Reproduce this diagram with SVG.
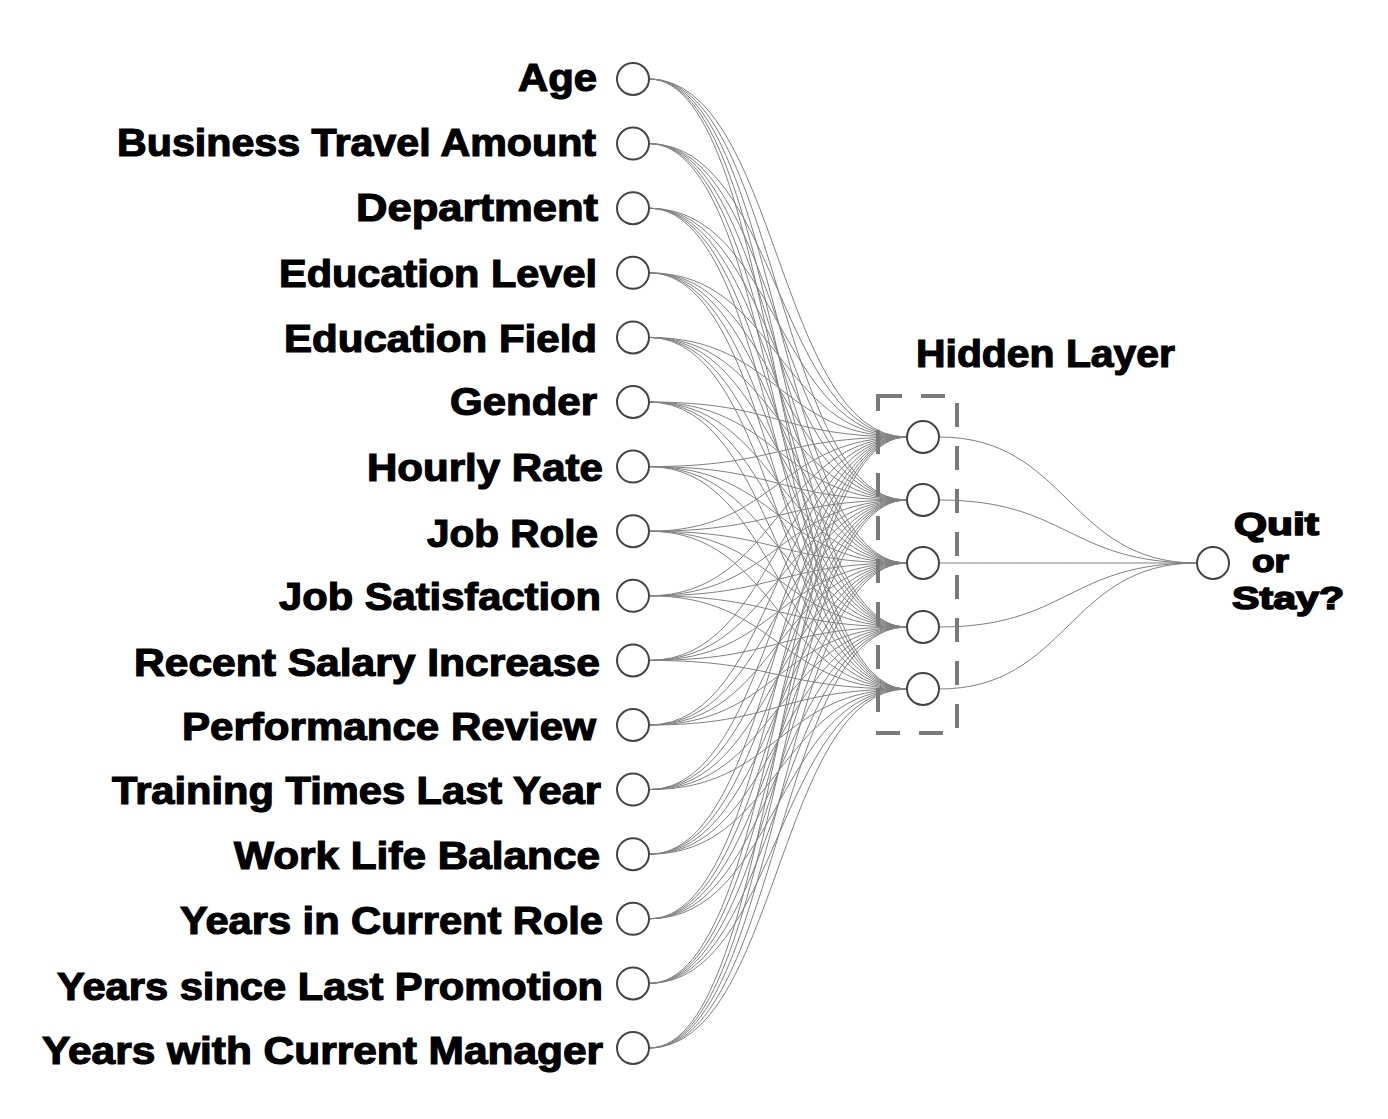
<svg xmlns="http://www.w3.org/2000/svg" width="1388" height="1119" viewBox="0 0 1388 1119">
<style>
.lbl{font-family:"Liberation Sans",Arial,sans-serif;font-weight:bold;font-size:38px;fill:#000;stroke:#000;stroke-width:1.2px}
.lbl.outl{font-size:32px;stroke-width:1.6px}
.node{fill:#fff;stroke:#444;stroke-width:2}
.conn path{fill:none;stroke:#808080;stroke-width:1}
.box{fill:none;stroke:#7a7a7a;stroke-width:4;stroke-dasharray:24 19}
</style>
<rect width="1388" height="1119" fill="#fff"/>
<g id="connectors" class="conn">
<path d="M649,79 C778,79 778,437 907,437"/><path d="M649,79 C778,79 778,500 907,500"/><path d="M649,79 C778,79 778,563 907,563"/><path d="M649,79 C778,79 778,627 907,627"/><path d="M649,79 C778,79 778,689 907,689"/>
<path d="M649,143.6 C778,143.6 778,437 907,437"/><path d="M649,143.6 C778,143.6 778,500 907,500"/><path d="M649,143.6 C778,143.6 778,563 907,563"/><path d="M649,143.6 C778,143.6 778,627 907,627"/><path d="M649,143.6 C778,143.6 778,689 907,689"/>
<path d="M649,208.2 C778,208.2 778,437 907,437"/><path d="M649,208.2 C778,208.2 778,500 907,500"/><path d="M649,208.2 C778,208.2 778,563 907,563"/><path d="M649,208.2 C778,208.2 778,627 907,627"/><path d="M649,208.2 C778,208.2 778,689 907,689"/>
<path d="M649,272.8 C778,272.8 778,437 907,437"/><path d="M649,272.8 C778,272.8 778,500 907,500"/><path d="M649,272.8 C778,272.8 778,563 907,563"/><path d="M649,272.8 C778,272.8 778,627 907,627"/><path d="M649,272.8 C778,272.8 778,689 907,689"/>
<path d="M649,337.4 C778,337.4 778,437 907,437"/><path d="M649,337.4 C778,337.4 778,500 907,500"/><path d="M649,337.4 C778,337.4 778,563 907,563"/><path d="M649,337.4 C778,337.4 778,627 907,627"/><path d="M649,337.4 C778,337.4 778,689 907,689"/>
<path d="M649,402 C778,402 778,437 907,437"/><path d="M649,402 C778,402 778,500 907,500"/><path d="M649,402 C778,402 778,563 907,563"/><path d="M649,402 C778,402 778,627 907,627"/><path d="M649,402 C778,402 778,689 907,689"/>
<path d="M649,466.6 C778,466.6 778,437 907,437"/><path d="M649,466.6 C778,466.6 778,500 907,500"/><path d="M649,466.6 C778,466.6 778,563 907,563"/><path d="M649,466.6 C778,466.6 778,627 907,627"/><path d="M649,466.6 C778,466.6 778,689 907,689"/>
<path d="M649,531.2 C778,531.2 778,437 907,437"/><path d="M649,531.2 C778,531.2 778,500 907,500"/><path d="M649,531.2 C778,531.2 778,563 907,563"/><path d="M649,531.2 C778,531.2 778,627 907,627"/><path d="M649,531.2 C778,531.2 778,689 907,689"/>
<path d="M649,595.8 C778,595.8 778,437 907,437"/><path d="M649,595.8 C778,595.8 778,500 907,500"/><path d="M649,595.8 C778,595.8 778,563 907,563"/><path d="M649,595.8 C778,595.8 778,627 907,627"/><path d="M649,595.8 C778,595.8 778,689 907,689"/>
<path d="M649,660.4 C778,660.4 778,437 907,437"/><path d="M649,660.4 C778,660.4 778,500 907,500"/><path d="M649,660.4 C778,660.4 778,563 907,563"/><path d="M649,660.4 C778,660.4 778,627 907,627"/><path d="M649,660.4 C778,660.4 778,689 907,689"/>
<path d="M649,725 C778,725 778,437 907,437"/><path d="M649,725 C778,725 778,500 907,500"/><path d="M649,725 C778,725 778,563 907,563"/><path d="M649,725 C778,725 778,627 907,627"/><path d="M649,725 C778,725 778,689 907,689"/>
<path d="M649,789.6 C778,789.6 778,437 907,437"/><path d="M649,789.6 C778,789.6 778,500 907,500"/><path d="M649,789.6 C778,789.6 778,563 907,563"/><path d="M649,789.6 C778,789.6 778,627 907,627"/><path d="M649,789.6 C778,789.6 778,689 907,689"/>
<path d="M649,854.2 C778,854.2 778,437 907,437"/><path d="M649,854.2 C778,854.2 778,500 907,500"/><path d="M649,854.2 C778,854.2 778,563 907,563"/><path d="M649,854.2 C778,854.2 778,627 907,627"/><path d="M649,854.2 C778,854.2 778,689 907,689"/>
<path d="M649,918.8 C778,918.8 778,437 907,437"/><path d="M649,918.8 C778,918.8 778,500 907,500"/><path d="M649,918.8 C778,918.8 778,563 907,563"/><path d="M649,918.8 C778,918.8 778,627 907,627"/><path d="M649,918.8 C778,918.8 778,689 907,689"/>
<path d="M649,983.4 C778,983.4 778,437 907,437"/><path d="M649,983.4 C778,983.4 778,500 907,500"/><path d="M649,983.4 C778,983.4 778,563 907,563"/><path d="M649,983.4 C778,983.4 778,627 907,627"/><path d="M649,983.4 C778,983.4 778,689 907,689"/>
<path d="M649,1048 C778,1048 778,437 907,437"/><path d="M649,1048 C778,1048 778,500 907,500"/><path d="M649,1048 C778,1048 778,563 907,563"/><path d="M649,1048 C778,1048 778,627 907,627"/><path d="M649,1048 C778,1048 778,689 907,689"/>
<path d="M939,437 C1068,437 1068,563 1197,563"/><path d="M939,500 C1068,500 1068,563 1197,563"/><path d="M939,563 C1068,563 1068,563 1197,563"/><path d="M939,627 C1068,627 1068,563 1197,563"/><path d="M939,689 C1068,689 1068,563 1197,563"/>
</g>
<g id="hidden-layer-box">
<rect class="box" x="878" y="396" width="79" height="337"/>
<text class="lbl" x="916" y="367" textLength="259" lengthAdjust="spacingAndGlyphs">Hidden Layer</text>
</g>
<g id="in-age"><text class="lbl" x="518" y="91" textLength="79" lengthAdjust="spacingAndGlyphs">Age</text><circle class="node" cx="633" cy="79" r="16"/></g>
<g id="in-business-travel"><text class="lbl" x="117" y="156" textLength="479" lengthAdjust="spacingAndGlyphs">Business Travel Amount</text><circle class="node" cx="633" cy="143.6" r="16"/></g>
<g id="in-department"><text class="lbl" x="356" y="221" textLength="242" lengthAdjust="spacingAndGlyphs">Department</text><circle class="node" cx="633" cy="208.2" r="16"/></g>
<g id="in-education-level"><text class="lbl" x="279" y="287" textLength="318" lengthAdjust="spacingAndGlyphs">Education Level</text><circle class="node" cx="633" cy="272.8" r="16"/></g>
<g id="in-education-field"><text class="lbl" x="284" y="352" textLength="313" lengthAdjust="spacingAndGlyphs">Education Field</text><circle class="node" cx="633" cy="337.4" r="16"/></g>
<g id="in-gender"><text class="lbl" x="450" y="415" textLength="147" lengthAdjust="spacingAndGlyphs">Gender</text><circle class="node" cx="633" cy="402" r="16"/></g>
<g id="in-hourly-rate"><text class="lbl" x="367" y="481" textLength="236" lengthAdjust="spacingAndGlyphs">Hourly Rate</text><circle class="node" cx="633" cy="466.6" r="16"/></g>
<g id="in-job-role"><text class="lbl" x="427" y="547" textLength="171" lengthAdjust="spacingAndGlyphs">Job Role</text><circle class="node" cx="633" cy="531.2" r="16"/></g>
<g id="in-job-satisfaction"><text class="lbl" x="279" y="610" textLength="322" lengthAdjust="spacingAndGlyphs">Job Satisfaction</text><circle class="node" cx="633" cy="595.8" r="16"/></g>
<g id="in-recent-salary"><text class="lbl" x="134" y="676" textLength="466" lengthAdjust="spacingAndGlyphs">Recent Salary Increase</text><circle class="node" cx="633" cy="660.4" r="16"/></g>
<g id="in-performance"><text class="lbl" x="182" y="740" textLength="414" lengthAdjust="spacingAndGlyphs">Performance Review</text><circle class="node" cx="633" cy="725" r="16"/></g>
<g id="in-training"><text class="lbl" x="112" y="804" textLength="489" lengthAdjust="spacingAndGlyphs">Training Times Last Year</text><circle class="node" cx="633" cy="789.6" r="16"/></g>
<g id="in-work-life"><text class="lbl" x="234" y="869" textLength="366" lengthAdjust="spacingAndGlyphs">Work Life Balance</text><circle class="node" cx="633" cy="854.2" r="16"/></g>
<g id="in-years-role"><text class="lbl" x="180" y="934" textLength="423" lengthAdjust="spacingAndGlyphs">Years in Current Role</text><circle class="node" cx="633" cy="918.8" r="16"/></g>
<g id="in-years-promotion"><text class="lbl" x="57" y="1000" textLength="546" lengthAdjust="spacingAndGlyphs">Years since Last Promotion</text><circle class="node" cx="633" cy="983.4" r="16"/></g>
<g id="in-years-manager"><text class="lbl" x="42" y="1064" textLength="561" lengthAdjust="spacingAndGlyphs">Years with Current Manager</text><circle class="node" cx="633" cy="1048" r="16"/></g>
<g id="h1"><circle class="node" cx="923" cy="437" r="16"/></g>
<g id="h2"><circle class="node" cx="923" cy="500" r="16"/></g>
<g id="h3"><circle class="node" cx="923" cy="563" r="16"/></g>
<g id="h4"><circle class="node" cx="923" cy="627" r="16"/></g>
<g id="h5"><circle class="node" cx="923" cy="689" r="16"/></g>
<g id="out"><circle class="node" cx="1213" cy="563" r="16"/>
<text class="lbl outl" x="1234" y="535" textLength="85" lengthAdjust="spacingAndGlyphs">Quit</text>
<text class="lbl outl" x="1252" y="572" textLength="37" lengthAdjust="spacingAndGlyphs">or</text>
<text class="lbl outl" x="1232" y="609" textLength="112" lengthAdjust="spacingAndGlyphs">Stay?</text>
</g>
</svg>
